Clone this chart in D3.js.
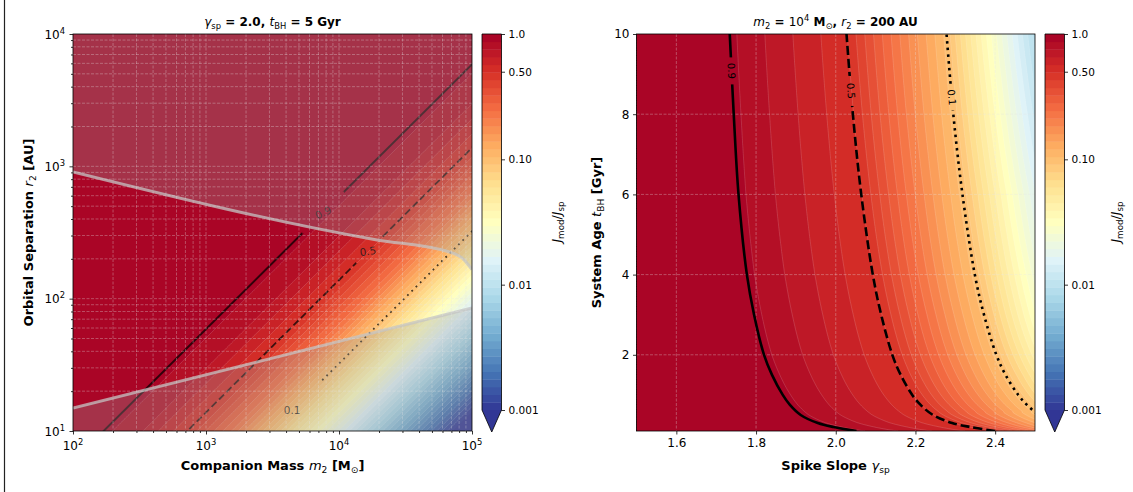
<!DOCTYPE html>
<html>
<head>
<meta charset="utf-8">
<script src="https://cdn.jsdelivr.net/npm/d3@7"></script>
<style>
    body { margin: 0; background: #fff; }
    svg { display: block; font-family: "DejaVu Sans", sans-serif; }
</style>
</head>
<body>
<div id="chart"></div>
<script>
// ---------------- data ----------------
// left panel: J_mod/J_sp only depends on log10(r2 / m2)
const ratioLog = [-4.5, -4, -3.5, -3, -2.49, -2.2, -1.86, -1.5, -1.23, -1, -0.5, 0, 2.5];
const ratioJ = [0.00012, 0.0006, 0.0035, 0.019, 0.1, 0.24, 0.5, 0.78, 0.9, 0.95, 0.99, 0.998, 1.0];

// labelled contours (left): level, log10(r2/m2) of the line, mass where the label sits
const contourLevels = [0.9, 0.5, 0.1];
const leftLevelLogRatio = [-1.23, -1.86, -2.49];
const leftLabelMass = [7600, 16500, 4440];
const leftLabelAngle = [-25, -8, 0];

// validity band (outside is greyed out)
const upperEdgeMass = [100, 19300, 64600, 75000, 84000, 93000, 100000];
const upperEdgeSep = [908, 278, 228, 217, 203, 182, 166];
const lowerEdgeMass = [100, 100000];
const lowerEdgeSep = [14.9, 85];

// right panel: gamma_sp where J reaches 0.9 / 0.5 / 0.1 at each age, and J at gamma = 2.5
const ages = [0.1, 0.2, 0.3, 0.5, 0.75, 1, 1.5, 2, 3, 4, 6, 8, 10];
const gamma09 = [2.052, 1.994, 1.955, 1.912, 1.885, 1.867, 1.840, 1.820, 1.795, 1.777, 1.756, 1.744, 1.734];
const gamma05 = [2.400, 2.337, 2.292, 2.244, 2.213, 2.192, 2.163, 2.142, 2.114, 2.093, 2.064, 2.043, 2.027];
const gamma01 = [2.72, 2.64, 2.59, 2.513, 2.480, 2.458, 2.426, 2.403, 2.372, 2.349, 2.318, 2.295, 2.278];
const edgeJ = [0.25, 0.17, 0.14, 0.105, 0.085, 0.07, 0.053, 0.042, 0.03, 0.024, 0.017, 0.012, 0.009];
const rightLabelAge = [9.08, 8.58, 8.42];

// axes / colorbar ticks
const massTicks = [1e2, 1e3, 1e4, 1e5];
const sepTicks = [1e1, 1e2, 1e3, 1e4];
const gammaTicks = [1.6, 1.8, 2.0, 2.2, 2.4];
const ageTicks = [2, 4, 6, 8, 10];
const cbTicks = [1, 0.5, 0.1, 0.01, 0.001];
const cbTickLabels = ["1.0", "0.50", "0.10", "0.01", "0.001"];

// ---------------- setup ----------------
const width = 1133;
const height = 492;
const svg = d3.select("#chart").append("svg").attr("width", width).attr("height", height);
const defs = svg.append("defs");

const xL = d3.scaleLog().domain([1e2, 1e5]).range([73, 472]);
const yL = d3.scaleLog().domain([10, 1e4]).range([431, 34]);
const xR = d3.scaleLinear().domain([1.5, 2.5]).range([636.5, 1035]);
const yR = d3.scaleLinear().domain([0.1, 10]).range([431, 34]);

//RdYlBu_r on a log norm 1e-3..1, like matplotlib
const rdylbu = ["#a50026", "#d73027", "#f46d43", "#fdae61", "#fee090", "#ffffbf",
    "#e0f3f8", "#abd9e9", "#74add1", "#4575b4", "#313695"];
const cmap = d3.scaleLinear().domain(d3.range(11).map((i) => i / 10)).range(rdylbu);
const norm = d3.scaleLog().domain([1e-3, 1]).range([1, 0]).clamp(true);
const colorOf = (v) => cmap(norm(v));
const underColor = rdylbu[10];

const levelCount = 50;
const levelLogs = d3.range(levelCount).map((i) => -3 + (3 * i) / (levelCount - 1));
const bandColors = levelLogs.map((l, i) => {
    const hi = i < levelCount - 1 ? levelLogs[i + 1] : l;
    return colorOf((10 ** l + 10 ** hi) / 2);
});

// rich text with italic / bold / sub / sup runs
function rich(sel, runs, size) {
    let shift = 0;
    runs.forEach((r) => {
        const ts = sel.append("tspan").text(r.t);
        let target = 0;
        let fs = size;
        if (r.sub) { target = size * 0.24; fs = size * 0.7; }
        if (r.sup) { target = -size * 0.4; fs = size * 0.7; }
        ts.attr("font-size", fs);
        if (target !== shift) { ts.attr("dy", target - shift); shift = target; }
        if (r.i) ts.attr("font-style", "italic");
        if (r.b) ts.attr("font-weight", "bold");
    });
    return sel;
}

function clip(id, x0, x1, y0, y1) {
    defs.append("clipPath").attr("id", id)
        .append("rect").attr("x", x0).attr("y", y0).attr("width", x1 - x0).attr("height", y1 - y0);
    return `url(#${id})`;
}

function drawField(g, logValues, nx, ny, toX, toY) {
    const contours = d3.contours().size([nx, ny]).thresholds(levelLogs)(logValues);
    const path = d3.geoPath(d3.geoTransform({
        point(x, y) { this.stream.point(toX(x), toY(y)); }
    }));
    g.selectAll("path.band").data(contours).join("path")
        .attr("class", "band")
        .attr("d", path)
        .attr("fill", (d, i) => bandColors[i]);
    g.selectAll("path.iso").data(contours.slice(1)).join("path")
        .attr("class", "iso")
        .attr("d", path)
        .attr("fill", "none")
        .attr("stroke", "#fff")
        .attr("stroke-width", 0.5)
        .attr("stroke-opacity", 0.3);
}

function gapMask(id, boxes) {
    const m = defs.append("mask").attr("id", id).attr("maskUnits", "userSpaceOnUse")
        .attr("x", 0).attr("y", 0).attr("width", width).attr("height", height);
    m.append("rect").attr("width", width).attr("height", height).attr("fill", "#fff");
    boxes.forEach((b) => {
        m.append("rect").attr("x", b.x - b.w / 2).attr("y", b.y - b.h / 2)
            .attr("width", b.w).attr("height", b.h).attr("fill", "#000");
    });
    return `url(#${id})`;
}

// ---------------- left panel ----------------
const gL = svg.append("g").attr("clip-path", clip("clipL", 73, 472, 34, 431));
gL.append("rect").attr("x", 73).attr("y", 34).attr("width", 399).attr("height", 397).attr("fill", underColor);

const nL = 240;
const ratioScale = d3.scaleLinear().domain(ratioLog).range(ratioJ.map(Math.log10)).clamp(true);
const leftValues = new Array(nL * nL);
for (let j = 0; j < nL; j++) {
    const logr = 1 + (j * 3) / (nL - 1);
    for (let i = 0; i < nL; i++) {
        const logm = 2 + (i * 3) / (nL - 1);
        leftValues[j * nL + i] = ratioScale(logr - logm);
    }
}
drawField(gL, leftValues, nL, nL,
    (g) => xL(10 ** (2 + ((g - 0.5) * 3) / (nL - 1))),
    (g) => yL(10 ** (1 + ((g - 0.5) * 3) / (nL - 1))));

// contour lines with label gaps
const leftLabelPos = contourLevels.map((lv, i) => {
    const m = leftLabelMass[i];
    return { x: xL(m), y: yL(m * 10 ** leftLevelLogRatio[i]) };
});
const leftGapSize = [42, 24, 60];
const leftLines = gL.append("g")
    .attr("mask", gapMask("maskL", leftLabelPos.map((p, i) => ({ x: p.x, y: p.y, w: leftGapSize[i], h: leftGapSize[i] }))));
const leftDash = [null, "7,3.5", "1.8,4.2"];
const leftWidth = [2, 1.8, 1.8];
contourLevels.forEach((lv, i) => {
    const r = 10 ** leftLevelLogRatio[i];
    leftLines.append("path")
        .attr("d", d3.line().x((m) => xL(m)).y((m) => yL(m * r))([50, 2e5]))
        .attr("fill", "none")
        .attr("stroke", "#000")
        .attr("stroke-opacity", 0.72)
        .attr("stroke-width", leftWidth[i])
        .attr("stroke-dasharray", leftDash[i]);
});
gL.selectAll("text.clabel").data(contourLevels).join("text")
    .attr("class", "clabel")
    .attr("transform", (d, i) => `translate(${leftLabelPos[i].x},${leftLabelPos[i].y}) rotate(${leftLabelAngle[i]})`)
    .attr("text-anchor", "middle")
    .attr("dy", "0.35em")
    .attr("font-size", 10.5)
    .attr("fill", "#1a1a1a")
    .attr("fill-opacity", 0.85)
    .text((d) => d);

// greyed-out region outside the band
const edgeLine = d3.line().x((d) => xL(d[0])).y((d) => yL(d[1])).curve(d3.curveMonotoneX);
const upperPts = upperEdgeMass.map((m, i) => [m, upperEdgeSep[i]]);
const lowerPts = lowerEdgeMass.map((m, i) => [m, lowerEdgeSep[i]]);
gL.append("path")
    .attr("d", edgeLine(upperPts) + `L${xL(1e5) + 5},${yL(upperEdgeSep[upperEdgeSep.length - 1])}L${xL(1e5) + 5},${yL(1e4) - 5}L${xL(1e2) - 5},${yL(1e4) - 5}L${xL(1e2) - 5},${yL(upperEdgeSep[0])}Z`)
    .attr("fill", "#9a9a9a")
    .attr("fill-opacity", 0.3);
gL.append("path")
    .attr("d", edgeLine(lowerPts) + `L${xL(1e5) + 5},${yL(lowerEdgeSep[1])}L${xL(1e5) + 5},${yL(10) + 5}L${xL(1e2) - 5},${yL(10) + 5}L${xL(1e2) - 5},${yL(lowerEdgeSep[0])}Z`)
    .attr("fill", "#9a9a9a")
    .attr("fill-opacity", 0.3);
[upperPts, lowerPts].forEach((pts) => {
    gL.append("path")
        .attr("d", edgeLine(pts))
        .attr("fill", "none")
        .attr("stroke", "#c4c4c4")
        .attr("stroke-opacity", 0.75)
        .attr("stroke-width", 3);
});

// grid (major + minor)
const minorMass = [];
[1e2, 1e3, 1e4].forEach((d) => d3.range(2, 10).forEach((k) => minorMass.push(d * k)));
const minorSep = [];
[1e1, 1e2, 1e3].forEach((d) => d3.range(2, 10).forEach((k) => minorSep.push(d * k)));
const gridL = svg.append("g").attr("stroke", "#e6e6e6").attr("stroke-opacity", 0.4)
    .attr("stroke-width", 0.8).attr("stroke-dasharray", "3,1.5");
gridL.selectAll("line.gx").data([1e3, 1e4, ...minorMass]).join("line")
    .attr("x1", (d) => xL(d)).attr("x2", (d) => xL(d)).attr("y1", 34).attr("y2", 431);
gridL.selectAll("line.gy").data([1e2, 1e3, ...minorSep]).join("line")
    .attr("class", "gy")
    .attr("y1", (d) => yL(d)).attr("y2", (d) => yL(d)).attr("x1", 73).attr("x2", 472);

// ---------------- right panel ----------------
const gR = svg.append("g").attr("clip-path", clip("clipR", 636.5, 1035, 34, 431));
//rows are interpolated in log(age), the contours are close to straight there
const s09 = d3.scaleLog().domain(ages).range(gamma09);
const s05 = d3.scaleLog().domain(ages).range(gamma05);
const s01 = d3.scaleLog().domain(ages).range(gamma01);
const sEdge = d3.scaleLog().domain(ages).range(edgeJ.map(Math.log10));

const nR = 240;
const rightValues = new Array(nR * nR);
for (let j = 0; j < nR; j++) {
    const t = 0.1 + (j * 9.9) / (nR - 1);
    const anchors = [
        [1.5, Math.log10(0.99)],
        [s09(t), Math.log10(0.9)],
        [s05(t), Math.log10(0.5)],
        [s01(t), -1],
        [2.5, sEdge(t)],
    ].sort((a, b) => a[0] - b[0]);
    const row = d3.scaleLinear().domain(anchors.map((a) => a[0])).range(anchors.map((a) => a[1]));
    for (let i = 0; i < nR; i++) {
        rightValues[j * nR + i] = row(1.5 + i / (nR - 1));
    }
}
drawField(gR, rightValues, nR, nR,
    (g) => xR(1.5 + (g - 0.5) / (nR - 1)),
    (g) => yR(0.1 + ((g - 0.5) * 9.9) / (nR - 1)));

// grid
const gridR = svg.append("g").attr("stroke", "#e6e6e6").attr("stroke-opacity", 0.4)
    .attr("stroke-width", 0.8).attr("stroke-dasharray", "3,1.5");
gridR.selectAll("line.gx").data(gammaTicks).join("line")
    .attr("x1", (d) => xR(d)).attr("x2", (d) => xR(d)).attr("y1", 34).attr("y2", 431);
gridR.selectAll("line.gy").data(ageTicks.slice(0, -1)).join("line")
    .attr("class", "gy")
    .attr("y1", (d) => yR(d)).attr("y2", (d) => yR(d)).attr("x1", 636.5).attr("x2", 1035);

// contour lines
const rightSeries = [gamma09, gamma05, gamma01];
const rightScales = [s09, s05, s01];
const rightLabelPos = rightLabelAge.map((t, i) => ({ x: xR(rightScales[i](t)), y: yR(t) }));
const rightAngle = rightScales.map((s) => {
    const dx = xR(s(8)) - xR(s(10));
    const dy = yR(8) - yR(10);
    return (Math.atan2(dy, dx) * 180) / Math.PI;
});
const rightGap = [27, 30, 26];
const gRc = svg.append("g").attr("clip-path", "url(#clipR)");
const rightLines = gRc.append("g")
    .attr("mask", gapMask("maskR", rightLabelPos.map((p, i) => ({ x: p.x, y: p.y, w: 16, h: rightGap[i] }))));
const rightDash = [null, "9,4", "2.5,4.2"];
const curveLine = d3.line().x((d) => xR(d[0])).y((d) => yR(d[1])).curve(d3.curveCatmullRom.alpha(0.5));
rightSeries.forEach((gs, i) => {
    rightLines.append("path")
        .attr("d", curveLine(gs.map((gm, k) => [gm, ages[k]])))
        .attr("fill", "none")
        .attr("stroke", "#000")
        .attr("stroke-width", 2.6)
        .attr("stroke-dasharray", rightDash[i]);
});
gRc.selectAll("text.clabel").data(contourLevels).join("text")
    .attr("class", "clabel")
    .attr("transform", (d, i) => `translate(${rightLabelPos[i].x},${rightLabelPos[i].y}) rotate(${rightAngle[i]})`)
    .attr("text-anchor", "middle")
    .attr("dy", "0.35em")
    .attr("font-size", 10)
    .attr("fill", "#000")
    .text((d) => d);

// ---------------- axes ----------------
function styleAxis(g, size) {
    g.select(".domain").remove();
    g.selectAll(".tick line").attr("stroke", "#000").attr("stroke-width", 0.8);
    g.selectAll(".tick text").attr("font-size", size).attr("font-family", "DejaVu Sans").attr("fill", "#000");
}

// left axes: majors, minors, 10^n labels
svg.append("g").attr("transform", "translate(0,431)")
    .call(d3.axisBottom(xL).tickValues(massTicks).tickSize(3.5).tickFormat(""))
    .call(styleAxis, 12);
svg.append("g").attr("transform", "translate(0,431)")
    .call(d3.axisBottom(xL).tickValues(minorMass).tickSize(2).tickFormat(""))
    .call(styleAxis, 12);
svg.append("g").attr("transform", "translate(73,0)")
    .call(d3.axisLeft(yL).tickValues(sepTicks).tickSize(3.5).tickFormat(""))
    .call(styleAxis, 12);
svg.append("g").attr("transform", "translate(73,0)")
    .call(d3.axisLeft(yL).tickValues(minorSep).tickSize(2).tickFormat(""))
    .call(styleAxis, 12);
massTicks.forEach((m) => {
    rich(svg.append("text").attr("x", xL(m)).attr("y", 450).attr("text-anchor", "middle"),
        [{ t: "10" }, { t: String(Math.round(Math.log10(m))), sup: 1 }], 12);
});
sepTicks.forEach((r) => {
    rich(svg.append("text").attr("x", 65).attr("y", yL(r) + 4.5).attr("text-anchor", "end"),
        [{ t: "10" }, { t: String(Math.round(Math.log10(r))), sup: 1 }], 12);
});

// right axes
svg.append("g").attr("transform", "translate(0,431)")
    .call(d3.axisBottom(xR).tickValues(gammaTicks).tickSize(3.5).tickPadding(4).tickFormat(d3.format(".1f")))
    .call(styleAxis, 12);
svg.append("g").attr("transform", "translate(636.5,0)")
    .call(d3.axisLeft(yR).tickValues(ageTicks).tickSize(3.5).tickPadding(3.5).tickFormat(d3.format("d")))
    .call(styleAxis, 12);

// frames
[[73, 472], [636.5, 1035]].forEach(([a, b]) => {
    svg.append("rect").attr("x", a).attr("y", 34).attr("width", b - a).attr("height", 397)
        .attr("fill", "none").attr("stroke", "#000").attr("stroke-width", 0.8);
});

// ---------------- colorbars ----------------
function colorbar(x0, labelX) {
    const w = 19.5;
    const s = d3.scaleLog().domain([1e-3, 1]).range([410, 34]);
    const cb = svg.append("g");
    cb.selectAll("rect").data(d3.range(levelCount - 1)).join("rect")
        .attr("x", x0)
        .attr("y", (i) => s(10 ** levelLogs[i + 1]))
        .attr("width", w)
        .attr("height", (i) => s(10 ** levelLogs[i]) - s(10 ** levelLogs[i + 1]) + 0.4)
        .attr("fill", (i) => bandColors[i]);
    cb.append("path")
        .attr("d", `M${x0},${s(1e-3)}L${x0 + w},${s(1e-3)}L${x0 + w / 2},432Z`)
        .attr("fill", underColor);
    cb.append("path")
        .attr("d", `M${x0},34H${x0 + w}V${s(1e-3)}L${x0 + w / 2},432L${x0},${s(1e-3)}Z`)
        .attr("fill", "none").attr("stroke", "#000").attr("stroke-width", 0.8);
    cb.append("g").attr("transform", `translate(${x0 + w},0)`)
        .call(d3.axisRight(s).tickValues(cbTicks).tickSize(3.5).tickPadding(3.5)
            .tickFormat((d, i) => cbTickLabels[i]))
        .call(styleAxis, 10.5);
    rich(svg.append("text").attr("transform", `translate(${labelX},222) rotate(-90)`).attr("text-anchor", "middle"),
        [{ t: "J", i: 1 }, { t: "mod", sub: 1 }, { t: "/" }, { t: "J", i: 1 }, { t: "sp", sub: 1 }], 12.5);
}
colorbar(482, 561);
colorbar(1045, 1120);

// ---------------- titles & labels ----------------
rich(svg.append("text").attr("x", 272.5).attr("y", 26).attr("text-anchor", "middle"),
    [{ t: "γ", i: 1 }, { t: "sp", sub: 1 }, { t: " = 2.0, ", b: 1 }, { t: "t", i: 1 }, { t: "BH", sub: 1 }, { t: " = 5 Gyr", b: 1 }], 12);
rich(svg.append("text").attr("x", 835.5).attr("y", 26).attr("text-anchor", "middle"),
    [{ t: "m", i: 1 }, { t: "2", sub: 1 }, { t: " = ", b: 1 }, { t: "10" }, { t: "4", sup: 1 }, { t: " M", b: 1 },
        { t: "⊙", sub: 1 }, { t: ", ", b: 1 }, { t: "r", i: 1 }, { t: "2", sub: 1 }, { t: " = 200 AU", b: 1 }], 12);
rich(svg.append("text").attr("x", 272.5).attr("y", 470).attr("text-anchor", "middle"),
    [{ t: "Companion Mass ", b: 1 }, { t: "m", i: 1 }, { t: "2", sub: 1 }, { t: " [M", b: 1 }, { t: "⊙", sub: 1 }, { t: "]", b: 1 }], 13);
rich(svg.append("text").attr("x", 835.5).attr("y", 470).attr("text-anchor", "middle"),
    [{ t: "Spike Slope ", b: 1 }, { t: "γ", i: 1 }, { t: "sp", sub: 1 }], 13);
rich(svg.append("text").attr("transform", "translate(33,232.5) rotate(-90)").attr("text-anchor", "middle"),
    [{ t: "Orbital Separation ", b: 1 }, { t: "r", i: 1 }, { t: "2", sub: 1 }, { t: " [AU]", b: 1 }], 13);
rich(svg.append("text").attr("transform", "translate(601,232.5) rotate(-90)").attr("text-anchor", "middle"),
    [{ t: "System Age ", b: 1 }, { t: "t", i: 1 }, { t: "BH", sub: 1 }, { t: " [Gyr]", b: 1 }], 13);

// figure edge line on the left
svg.append("line").attr("x1", 4.5).attr("x2", 4.5).attr("y1", 0).attr("y2", height)
    .attr("stroke", "#222").attr("stroke-width", 1.2);
</script>
</body>
</html>
